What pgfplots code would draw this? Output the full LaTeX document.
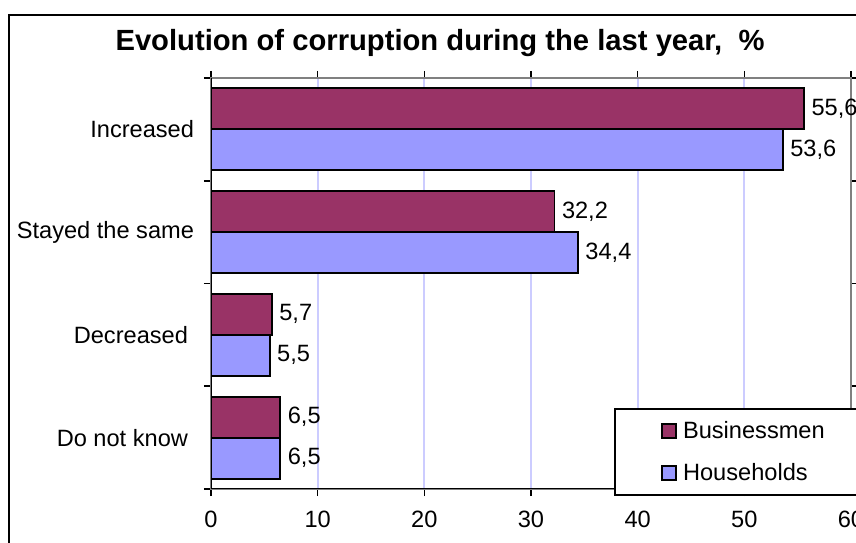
\documentclass[border=0pt]{standalone}
\usepackage{fontspec}
\setmainfont{Liberation Sans}
\usepackage{pgfplots}
\pgfplotsset{compat=1.18}
\definecolor{biz}{HTML}{993366}
\definecolor{hh}{HTML}{9999FF}
\definecolor{gridc}{HTML}{CCCCFF}
\newcommand\lbl{\fontsize{11.8bp}{14bp}\selectfont}

\begin{document}
\begin{tikzpicture}
\clip (0bp,0bp) rectangle (428bp,271.5bp);
\draw[line width=1bp] (4.5bp,264bp) rectangle (460bp,-20bp);
\node[font=\fontsize{14.6bp}{17bp}\selectfont\bfseries] at (220bp,249.8bp)
  {Evolution of corruption during the last year,\ \ \%};
\begin{axis}[
  at={(105.5bp,27bp)}, anchor=south west,
  scale only axis, width=320bp, height=205.5bp,
  xbar, bar width=20.5bp,
  xmin=0, xmax=60, ymin=-0.5, ymax=3.5,
  xtick={0,10,...,60},
  xmajorgrids, grid style={gridc, line width=1bp},
  ytick={-0.5,0.5,1.5,2.5,3.5}, yticklabels={},
  extra y ticks={0,1,2,3},
  extra y tick labels={Do not know\hspace*{3bp}, Decreased\hspace*{3bp}, Stayed the same, Increased},
  extra y tick style={major tick length=0pt, grid=none},
  tick align=outside, major tick length=3.5bp,
  tick style={black, line width=0.8bp},
  axis line style={draw=gray, line width=0.8bp},
  every tick label/.append style={font=\lbl},
  /pgf/number format/assume math mode=true,
  xticklabel style={yshift=-4bp},
  yticklabel style={xshift=-5bp},
  nodes near coords,
  nodes near coords style={font=\lbl, anchor=west,
    /pgf/number format/.cd, use comma, fixed, fixed zerofill, precision=1},
  legend style={at={(axis cs:37.78,0.288)}, anchor=north west,
    draw=black, line width=1bp, fill=white, font=\lbl,
    inner sep=4bp, row sep=7bp,
    /tikz/every odd column/.append style={column sep=1.2bp}},
  legend cell align=left,
  legend image code/.code={\path (0bp,0bp);
    \draw[#1,draw=black,line width=0.8bp] (19bp,-3.5bp) rectangle (26bp,3.5bp);},
]
\addplot[fill=biz, draw=black, line width=0.9bp, bar shift=10.25bp] coordinates {
(55.6,3) (32.2,2) (5.7,1) (6.5,0)};
\addlegendentry{\makebox[90bp][l]{Businessmen}}
\addplot[fill=hh, draw=black, line width=0.9bp, bar shift=-10.25bp] coordinates {
(53.6,3) (34.4,2) (5.5,1) (6.5,0)};
\addlegendentry{\makebox[90bp][l]{Households}}
\draw[black, line width=0.8bp] (rel axis cs:0,1) -- (rel axis cs:0,0) -- (rel axis cs:1,0);
\end{axis}
\end{tikzpicture}
\end{document}
